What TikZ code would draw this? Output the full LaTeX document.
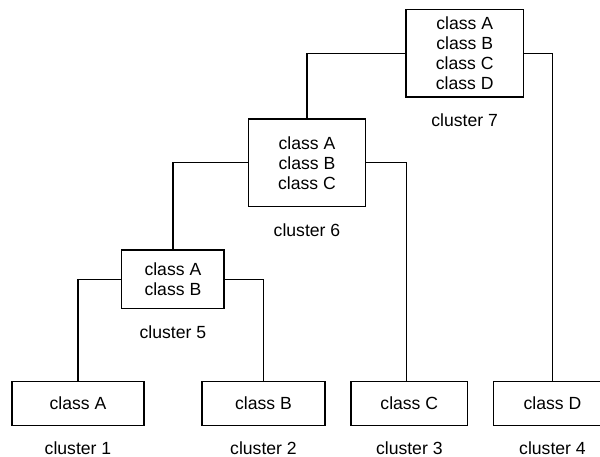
\documentclass[tikz,border=0pt]{standalone}
\usepackage{fontspec}
\setmainfont{Liberation Sans}
\begin{document}
\begin{tikzpicture}[x=1pt,y=-1pt,
  box/.style={draw=black, line width=1.2pt, inner sep=0pt, align=center,
    font=\fontsize{17.6}{20}\selectfont},
  lbl/.style={inner sep=0pt, font=\fontsize{17.6}{20}\selectfont},
  link/.style={draw=black, line width=1.2pt}]
\useasboundingbox (0,0) rectangle (600,457);
% internal boxes
\node[box, minimum width=117.3pt, minimum height=87.7pt] (c7) at (464.7,53.2) {class A\\class B\\class C\\class D};
\node[box, minimum width=117.4pt, minimum height=87.7pt] (c6) at (307.0,162.8) {class A\\class B\\class C};
\node[box, minimum width=102.3pt, minimum height=58.7pt] (c5) at (172.9,279.4) {class A\\class B};
% leaves
\node[box, minimum width=132pt, minimum height=43.6pt] (c1) at (78,403.5) {class A};
\node[box, minimum width=123pt, minimum height=43.6pt] (c2) at (263.5,403.5) {class B};
\node[box, minimum width=116.7pt, minimum height=43.6pt] (c3) at (409.3,403.5) {class C};
\node[box, minimum width=118pt, minimum height=43.6pt] (c4) at (552.5,403.5) {class D};
% labels
\node[lbl] (l7) at ([yshift=-23pt]c7.south) {cluster 7};
\node[lbl] (l6) at ([yshift=-22.6pt]c6.south) {cluster 6};
\node[lbl] (l5) at ([yshift=-23pt]c5.south) {cluster 5};
\node[lbl] (l1) at ([yshift=-22.5pt]c1.south) {cluster 1};
\node[lbl] (l2) at ([yshift=-22.5pt]c2.south) {cluster 2};
\node[lbl] (l3) at ([yshift=-22.5pt]c3.south) {cluster 3};
\node[lbl] (l4) at ([yshift=-22.5pt]c4.south) {cluster 4};
% connectors
\draw[link] (c7.west) -| (c6.north);
\draw[link] (c7.east) -| (c4.north);
\draw[link] (c6.west) -| (c5.north);
\draw[link] (c6.east) -| ([xshift=-2.6pt]c3.north);
\draw[link] (c5.west) -| (c1.north);
\draw[link] (c5.east) -| (c2.north);
\end{tikzpicture}
\end{document}
